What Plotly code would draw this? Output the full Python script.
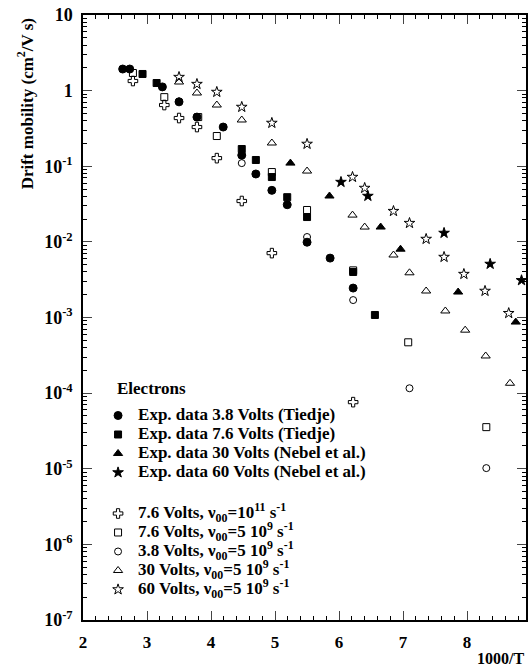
import plotly.graph_objects as go

# ---------------- data ----------------
T_exp38 = [2.62, 2.73, 3.24, 3.50, 3.78, 4.19, 4.48, 4.70, 4.95, 5.19, 5.50, 5.86, 6.22]
mu_exp38 = [1.93, 1.93, 1.12, 0.71, 0.447, 0.33, 0.14, 0.079, 0.048, 0.031, 0.0099, 0.0061, 0.00245]

T_exp76 = [2.93, 3.15, 4.48, 4.70, 4.95, 5.19, 5.50, 6.22, 6.56]
mu_exp76 = [1.66, 1.26, 0.169, 0.121, 0.072, 0.039, 0.0213, 0.0040, 0.00108]

T_exp30 = [5.24, 5.85, 6.65, 6.96, 7.86, 8.76]
mu_exp30 = [0.110, 0.0404, 0.0157, 0.0080, 0.00217, 0.00087]

T_exp60 = [6.03, 6.45, 7.64, 8.36, 8.85]
mu_exp60 = [0.0618, 0.0404, 0.0131, 0.0051, 0.0031]

T_th76_11 = [2.78, 3.27, 3.50, 3.78, 4.09, 4.48, 4.95, 6.22]
mu_th76_11 = [1.34, 0.645, 0.434, 0.33, 0.128, 0.0347, 0.0071, 7.6e-5]

T_th76 = [2.78, 3.27, 3.80, 4.09, 4.95, 5.50, 6.22, 7.08, 8.30]
mu_th76 = [1.71, 0.82, 0.447, 0.251, 0.0838, 0.0264, 0.0042, 0.00047, 3.55e-5]

T_th38 = [3.50, 4.48, 5.50, 6.22, 7.10, 8.30]
mu_th38 = [0.72, 0.110, 0.0116, 0.0017, 0.000116, 1.02e-5]

T_th30 = [3.50, 3.78, 4.09, 4.48, 4.95, 5.50, 6.21, 6.40, 6.85, 7.10, 7.36, 7.66, 7.97, 8.29, 8.67]
mu_th30 = [1.30, 0.93, 0.645, 0.409, 0.203, 0.0864, 0.0226, 0.0157, 0.0067, 0.0039, 0.00224,
           0.00122, 0.00068, 0.00031, 0.000135]

T_th60 = [3.50, 3.78, 4.09, 4.48, 4.95, 5.50, 6.21, 6.40, 6.85, 7.10, 7.36, 7.64, 7.95, 8.28, 8.65]
mu_th60 = [1.51, 1.22, 0.958, 0.607, 0.373, 0.197, 0.072, 0.0515, 0.0255, 0.0177, 0.0109,
           0.0063, 0.00375, 0.00224, 0.00114]

x_ticks = [2, 3, 4, 5, 6, 7, 8]
y_tickvals = [10, 1, 1e-1, 1e-2, 1e-3, 1e-4, 1e-5, 1e-6, 1e-7]
y_ticktext = ["10", "1"] + ["10<sup>-%d</sup>" % k for k in range(1, 8)]

FONT = "Liberation Serif"
fig = go.Figure()


def big(s):
    return '<span style="font-size:17px">' + s + "</span>"


nu = "\u03bd<sub>00</sub>"
series = [
    (T_exp38, mu_exp38, "circle", 8, "Exp. data 3.8 Volts (Tiedje)", "exp"),
    (T_exp76, mu_exp76, "square", 7, "Exp. data 7.6 Volts (Tiedje)", "exp"),
    (T_exp30, mu_exp30, "triangle-up", 8, "Exp. data 30 Volts (Nebel et al.)", "exp"),
    (T_exp60, mu_exp60, "star", 8, "Exp. data 60 Volts (Nebel et al.)", "exp"),
    (T_th76_11, mu_th76_11, "cross-open", 8, "7.6 Volts, " + nu + "=10<sup>11</sup> s<sup>-1</sup>", "th"),
    (T_th76, mu_th76, "square-open", 7, "7.6 Volts, " + nu + "=5 10<sup>9</sup> s<sup>-1</sup>", "th"),
    (T_th38, mu_th38, "circle-open", 7, "3.8 Volts, " + nu + "=5 10<sup>9</sup> s<sup>-1</sup>", "th"),
    (T_th30, mu_th30, "triangle-up-open", 8, "30 Volts, " + nu + "=5 10<sup>9</sup> s<sup>-1</sup>", "th"),
    (T_th60, mu_th60, "star-open", 8, "60 Volts, " + nu + "=5 10<sup>9</sup> s<sup>-1</sup>", "th"),
]
for xs, ys, sym, sz, name, grp in series:
    fig.add_trace(go.Scatter(
        x=xs, y=ys, mode="markers", name=big(name), legendgroup=grp,
        marker=dict(symbol=sym, size=sz, color="black", line=dict(color="black", width=1)),
    ))

fig.update_layout(
    width=531, height=667,
    margin=dict(l=83, r=3, t=15, b=47),
    paper_bgcolor="white", plot_bgcolor="white",
    font=dict(family=FONT, size=14, color="black"),
    showlegend=True,
    legend=dict(
        x=0.034, y=0.362, xanchor="left", yanchor="top",
        bgcolor="rgba(0,0,0,0)", borderwidth=0,
        font=dict(family=FONT, size=12, color="black", weight="bold"),
        tracegroupgap=22, traceorder="grouped",
    ),
    xaxis=dict(
        range=[2, 8.92], tickvals=x_ticks, ticks="inside", ticklen=9, tickwidth=1,
        showline=True, linecolor="black", linewidth=1.5, mirror="ticks",
        showgrid=False, zeroline=False, ticklabelstandoff=6,
        tickfont=dict(family=FONT, size=17, weight="bold"),
        minor=dict(ticks="inside", ticklen=4, dtick=0.2, showgrid=False, tickcolor="black"),
    ),
    yaxis=dict(
        type="log", range=[-7, 1], tickvals=y_tickvals, ticktext=y_ticktext,
        ticks="inside", ticklen=9, tickwidth=1,
        showline=True, linecolor="black", linewidth=1.5, mirror="ticks",
        showgrid=False, zeroline=False, ticklabelstandoff=5,
        tickfont=dict(family=FONT, size=18, weight="bold"),
        minor=dict(ticks="inside", ticklen=4, dtick="D1", showgrid=False, tickcolor="black"),
    ),
)

fig.add_annotation(
    text="<b>Electrons</b>",
    xref="paper", yref="paper", x=0.072, y=0.383, xanchor="left", yanchor="middle",
    showarrow=False, font=dict(family=FONT, size=17, color="black"),
)
fig.add_annotation(
    text="<b>Drift mobility (cm<sup>2</sup>/V s)</b>", textangle=-90,
    xref="paper", yref="paper", x=-0.13, y=0.853, xanchor="center", yanchor="middle",
    showarrow=False, font=dict(family=FONT, size=17, color="black"),
)
fig.add_annotation(
    text="<b>1000/T</b>",
    xref="paper", yref="paper", x=1.0, y=-0.046, xanchor="right", yanchor="top",
    showarrow=False, font=dict(family=FONT, size=16, color="black"),
)

fig.write_html("out.html")
